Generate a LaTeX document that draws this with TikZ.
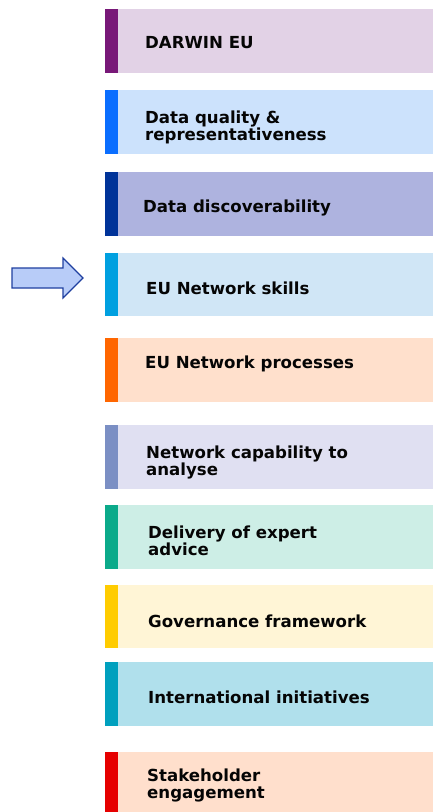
\documentclass[tikz,border=0pt]{standalone}
\usepackage{fontspec}
\setmainfont{DejaVu Sans}
\definecolor{b1}{HTML}{781878}\definecolor{f1}{HTML}{E2D2E6}
\definecolor{b2}{HTML}{0A6EFF}\definecolor{f2}{HTML}{CCE2FC}
\definecolor{b3}{HTML}{003399}\definecolor{f3}{HTML}{AEB3DF}
\definecolor{b4}{HTML}{00A0E0}\definecolor{f4}{HTML}{D0E6F6}
\definecolor{b5}{HTML}{FF6600}\definecolor{f5}{HTML}{FFE0CC}
\definecolor{b6}{HTML}{7B8FC4}\definecolor{f6}{HTML}{E0E0F2}
\definecolor{b7}{HTML}{0BAA8A}\definecolor{f7}{HTML}{CDEEE6}
\definecolor{b8}{HTML}{FFCC00}\definecolor{f8}{HTML}{FFF5D6}
\definecolor{b9}{HTML}{00A0BE}\definecolor{f9}{HTML}{B0E0EC}
\definecolor{b10}{HTML}{E60000}\definecolor{f10}{HTML}{FFDFCC}
\definecolor{arrfill}{HTML}{B8CCF8}\definecolor{arrline}{HTML}{1F3F9F}
\definecolor{txt}{HTML}{050505}
\tikzset{
  lbl/.style={anchor=west,align=left,font=\bfseries\fontsize{16.6}{17}\selectfont,text=txt,inner sep=0pt},
}
\newcommand{\panel}[5]{% name, top, bottom, bar, fill
  \fill[#5] (118pt,-#2pt) rectangle (433pt,-#3pt);
  \fill[#4] (105pt,-#2pt) rectangle (118pt,-#3pt);
}
\begin{document}
\begin{tikzpicture}[x=1pt,y=1pt]
\useasboundingbox (0,0) rectangle (433,-812);
\panel{p1}{9}{73}{b1}{f1}
\panel{p2}{90}{154}{b2}{f2}
\panel{p3}{172}{236}{b3}{f3}
\panel{p4}{253}{316}{b4}{f4}
\panel{p5}{338}{402}{b5}{f5}
\panel{p6}{425}{489}{b6}{f6}
\panel{p7}{505}{569}{b7}{f7}
\panel{p8}{585}{648}{b8}{f8}
\panel{p9}{662}{726}{b9}{f9}
\panel{p10}{752}{820}{b10}{f10}
\node[lbl] (t1) at (145,-43) {DARWIN EU};
\node[lbl] (t2) at (145,-127) {Data quality \&\\representativeness};
\node[lbl] (t3) at (143,-208) {Data discoverability};
\node[lbl] (t4) at (146,-288) {EU Network skills};
\node[lbl] (t5) at (145,-364) {EU Network processes};
\node[lbl] (t6) at (146,-462) {Network capability to\\analyse};
\node[lbl] (t7) at (148,-541) {Delivery of expert\\advice};
\node[lbl] (t8) at (148,-621) {Governance framework};
\node[lbl] (t9) at (148,-697) {International initiatives};
\node[lbl] (t10) at (147,-785) {Stakeholder\\engagement};
\draw[arrline,fill=arrfill,line width=1.2pt,line join=miter]
  (12,-268) -- (63,-268) -- (63,-258) -- (83,-278) -- (63,-298) -- (63,-288) -- (12,-288) -- cycle;
\end{tikzpicture}
\end{document}
